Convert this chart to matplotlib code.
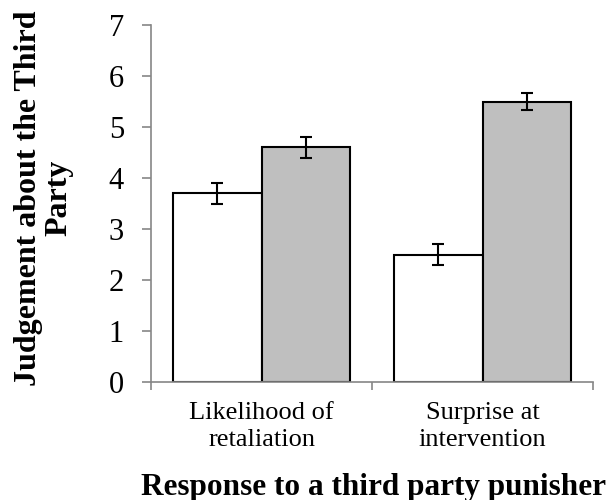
import numpy as np
import matplotlib
matplotlib.use("Agg")
import matplotlib.pyplot as plt

categories = ["Likelihood of\nretaliation", "Surprise at\nintervention"]
white_vals = [3.7, 2.5]
white_err = [0.21, 0.2]
gray_vals = [4.6, 5.5]
gray_err = [0.2, 0.16]

plt.rcParams["font.family"] = ["Liberation Serif", "DejaVu Serif"]

fig = plt.figure(figsize=(6.12, 5.0), dpi=100)
ax = fig.add_axes([0.247, 0.236, 0.722, 0.714])

x = np.arange(len(categories))
w = 0.4
ax.bar(x - w / 2, white_vals, w, color="white", edgecolor="black", linewidth=1.5,
       yerr=white_err, capsize=4.5, error_kw=dict(elinewidth=1.5, capthick=1.5, ecolor="black"))
ax.bar(x + w / 2, gray_vals, w, color="#bfbfbf", edgecolor="black", linewidth=1.5,
       yerr=gray_err, capsize=4.5, error_kw=dict(elinewidth=1.5, capthick=1.5, ecolor="black"))

ax.set_xlim(-0.5, 1.5)
ax.set_ylim(0, 7)
ax.set_yticks(range(0, 8))
ax.tick_params(axis="y", labelsize=22, color="#868686", length=6.5, width=1.2, pad=13)

ax.set_xticks([-0.5, 0.5, 1.5])
ax.set_xticklabels([])
ax.tick_params(axis="x", color="#868686", length=6, width=1.2)
for xi, lab in zip(x, categories):
    ax.text(xi, -0.4, lab, ha="center", va="top", fontsize=19, linespacing=1.3)

for s in ["top", "right"]:
    ax.spines[s].set_visible(False)
for s in ["left", "bottom"]:
    ax.spines[s].set_color("#868686")
    ax.spines[s].set_linewidth(1.2)

ax.set_ylabel("Judgement about the Third\nParty", fontsize=23, fontweight="bold",
              linespacing=1.1)
ax.yaxis.set_label_coords(-0.175, 0.515)
fig.text(0.61, 0.026, "Response to a third party punisher", ha="center", va="center",
         fontsize=22.5, fontweight="bold")

fig.savefig("out.png", dpi=100)
